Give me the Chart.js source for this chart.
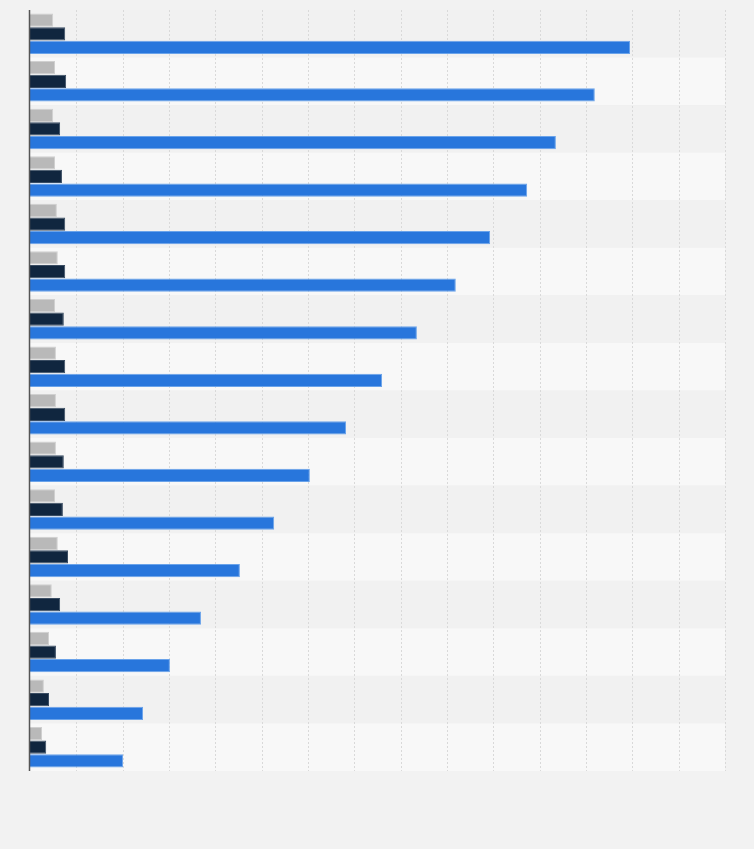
<!DOCTYPE html>
<html>
<head>
<meta charset="utf-8">
<script src="https://cdn.jsdelivr.net/npm/chart.js@4/dist/chart.umd.min.js"></script>
<style>
html,body{margin:0;padding:0;background:#f2f2f2;}
#wrap{width:754px;height:849px;position:relative;}
</style>
</head>
<body>
<div id="wrap"><canvas id="c" width="754" height="849"></canvas></div>
<script>
const categories = ["1","2","3","4","5","6","7","8","9","10","11","12","13","14","15","16"];
const seriesGray = [0.50,0.54,0.50,0.54,0.58,0.60,0.54,0.56,0.56,0.56,0.54,0.60,0.47,0.41,0.30,0.26];
const seriesNavy = [0.76,0.78,0.65,0.69,0.76,0.76,0.73,0.76,0.76,0.73,0.71,0.82,0.65,0.56,0.41,0.35];
const seriesBlue = [12.95,12.19,11.35,10.73,9.93,9.19,8.35,7.60,6.82,6.04,5.27,4.53,3.69,3.02,2.44,2.01];
const xMax = 15;

const bandPlugin = {
  id: 'bands',
  beforeDraw(chart) {
    const {ctx, chartArea, scales} = chart;
    const y = scales.y;
    const n = categories.length;
    const h = (chartArea.bottom - chartArea.top) / n;
    ctx.save();
    for (let i = 0; i < n; i++) {
      const c = y.getPixelForValue(i);
      ctx.fillStyle = (i % 2 === 0) ? '#f1f1f1' : '#f8f8f8';
      ctx.fillRect(chartArea.left, c - h / 2, chartArea.right - chartArea.left, h);
    }
    const x = scales.x;
    ctx.strokeStyle = '#d9d9d9';
    ctx.lineWidth = 1;
    ctx.setLineDash([2, 2]);
    for (let v = 1; v <= xMax; v++) {
      const px = Math.round(x.getPixelForValue(v)) + 0.5;
      ctx.beginPath();
      ctx.moveTo(px, chartArea.top);
      ctx.lineTo(px, chartArea.bottom);
      ctx.stroke();
    }
    ctx.restore();
  },
  afterDatasetsDraw(chart) {
    const {ctx, chartArea} = chart;
    ctx.save();
    ctx.strokeStyle = '#555555';
    ctx.lineWidth = 1.5;
    ctx.beginPath();
    ctx.moveTo(chartArea.left - 0.5, chartArea.top);
    ctx.lineTo(chartArea.left - 0.5, chartArea.bottom);
    ctx.stroke();
    ctx.restore();
  }
};

new Chart(document.getElementById('c'), {
  type: 'bar',
  data: {
    labels: categories,
    datasets: [
      {label: 'A', data: seriesGray, backgroundColor: '#b9b9b9', borderColor: '#d0d0d0', borderWidth: 1},
      {label: 'B', data: seriesNavy, backgroundColor: '#10263f', borderColor: '#3a4d63', borderWidth: 1},
      {label: 'C', data: seriesBlue, backgroundColor: '#2876dc', borderColor: '#6aa3ea', borderWidth: 1}
    ]
  },
  options: {
    indexAxis: 'y',
    responsive: false,
    animation: false,
    maintainAspectRatio: false,
    layout: {padding: {left: 30, top: 10, right: 29, bottom: 78}},
    categoryPercentage: 0.86,
    barPercentage: 0.97,
    plugins: {legend: {display: false}, tooltip: {enabled: false}},
    scales: {
      x: {
        min: 0, max: xMax,
        ticks: {display: false, stepSize: 1},
        grid: {display: false, drawTicks: false},
        border: {display: false}
      },
      y: {
        ticks: {display: false},
        grid: {display: false, drawTicks: false},
        border: {display: false}
      }
    }
  },
  plugins: [bandPlugin]
});
</script>
</body>
</html>
